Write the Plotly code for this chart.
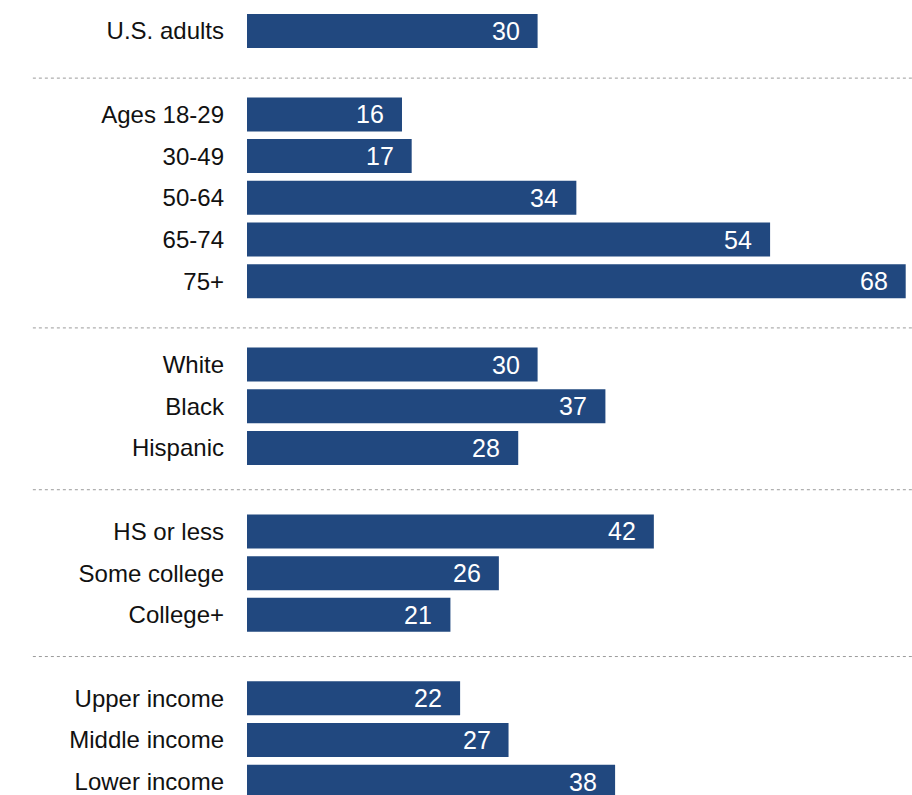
import plotly.graph_objects as go

categories = ["U.S. adults",
              "Ages 18-29", "30-49", "50-64", "65-74", "75+",
              "White", "Black", "Hispanic",
              "HS or less", "Some college", "College+",
              "Upper income", "Middle income", "Lower income"]
values = [30, 16, 17, 34, 54, 68, 30, 37, 28, 42, 26, 21, 22, 27, 38]
group_sizes = [1, 5, 3, 3, 3]

# layout: rows in slots, with an empty slot between groups
positions = []
slot = 0
separators = []
for gi, n in enumerate(group_sizes):
    if gi > 0:
        separators.append(slot)
        slot += 1
    for _ in range(n):
        positions.append(slot)
        slot += 1

BAR = "#21487f"
FONT = "Liberation Sans, Arial, sans-serif"

fig = go.Figure()
fig.add_trace(go.Bar(
    x=values, y=positions, orientation="h",
    marker=dict(color=BAR, line=dict(width=0)),
    width=0.815, hoverinfo="skip",
))

for v, p in zip(values, positions):
    fig.add_annotation(x=v, y=p, xref="x", yref="y", text=str(v),
                       showarrow=False, xanchor="right", xshift=-16,
                       font=dict(color="white", size=25, family=FONT))

sep_offsets = [0.13, 0.12, 0.0, 0.0]
for s, off in zip(separators, sep_offsets):
    fig.add_shape(type="line", xref="paper", yref="y",
                  x0=-0.322, x1=1.0, y0=s + off, y1=s + off,
                  line=dict(color="#9a9a9a", width=1, dash="dot"))

fig.update_layout(
    width=912, height=795,
    margin=dict(l=247, r=0, t=0, b=0),
    paper_bgcolor="white", plot_bgcolor="white",
    showlegend=False,
    font=dict(family=FONT, size=24, color="#111111"),
    xaxis=dict(range=[0, 68.65], visible=False, showgrid=False, zeroline=False),
    yaxis=dict(range=[18.32, -0.743], tickmode="array", tickvals=positions,
               ticktext=categories, showgrid=False, zeroline=False,
               showline=False, ticks="", ticklabelstandoff=22,
               ticklabeloverflow="allow",
               tickfont=dict(size=24, color="#111111", family=FONT)),
)

fig.write_html("out.html")
